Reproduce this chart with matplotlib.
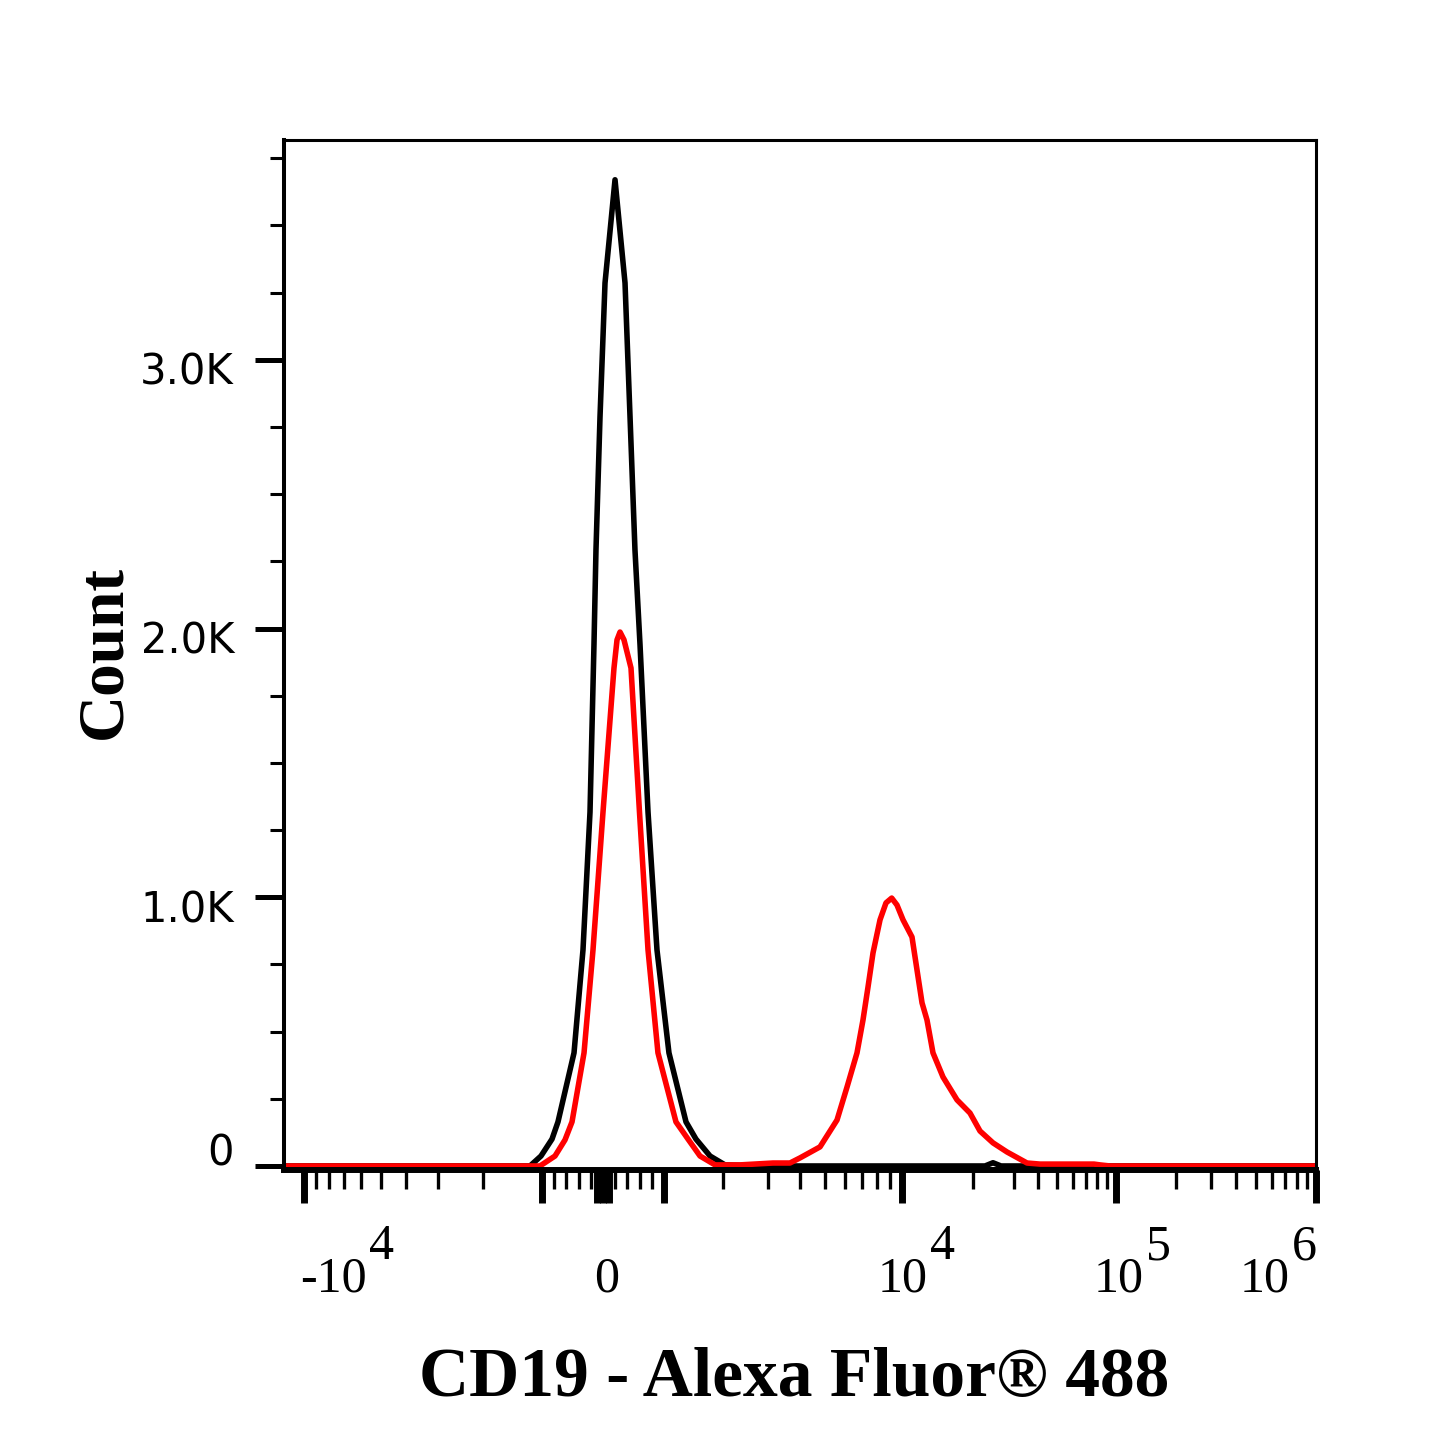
import numpy as np
import matplotlib
matplotlib.use("Agg")
import matplotlib.pyplot as plt
from matplotlib.ticker import FixedLocator, NullFormatter

# ── Histogram data (fluorescence vs count) ────────────────────────────────────
black_x = [-12170, -1151, -1012, -836, -738, -475, -328, -213, -148, -115,
           -49, 33, 197, 361, 443, 524, 607, 738, 885, 1060,
           1295, 1456, 1718, 2036, 2786, 22570, 24410, 26400, 1e6]
black_y = [0, 0, 37, 100, 164, 421, 804, 1317, 1939, 2293,
           2788, 3286, 3670, 3286, 2788, 2293, 1939, 1317, 804, 421,
           164, 100, 37, 4, 0, 0, 12, 0, 0]

red_x = [-12170, -1024, -787, -623, -508, -311, -164, 0, 180, 230,
         279, 344, 459, 598, 738, 901, 1151, 1326, 1527, 1821,
         2330, 3135, 3652, 3997, 4784, 5575, 6101, 6673, 7041, 7367,
         7706, 8207, 8660, 9116, 9560, 10100, 11030, 11588, 12170, 12780,
         13550, 14950, 17150, 19480, 21490, 24410, 28010, 34980, 40770, 77140,
         82790, 93160, 1e6]
red_y = [0, 0, 37, 97, 164, 421, 804, 1317, 1853, 1958,
         1987, 1958, 1853, 1317, 804, 421, 164, 100, 37, 4,
         4, 11, 11, 30, 71, 171, 294, 421, 543, 666,
         793, 916, 979, 997, 971, 916, 852, 729, 607, 543,
         421, 331, 246, 197, 130, 86, 52, 11, 7, 7,
         4, 0, 0]

Y_MAJOR  = [0, 1000, 2000, 3000]
Y_LABELS = ["0", "1.0K", "2.0K", "3.0K"]
X_LABEL_VALUES = [-1e4, 0, 1e4, 1e5, 1e6]
X_LABEL_BASE   = ["-10", "0", "10", "10", "10"]
X_LABEL_EXP    = ["4", "", "4", "5", "6"]

X_LABEL = "CD19 - Alexa Fluor® 488"
Y_LABEL = "Count"

# ── Biexponential-like display scale ──────────────────────────────────────────
LIN_LIMIT = 1000.0
LIN_SLOPE = 0.061
LOG_KNOTS = np.array([3.0, 3.301, 4.0, 4.477, 5.0, 6.0, 7.0])
POS_KNOTS = np.array([61.0, 120.0, 299.0, 411.0, 513.0, 713.0, 913.0])


def fwd(v):
    v = np.asarray(v, dtype=float)
    a = np.abs(v)
    lg = np.log10(np.maximum(a, 1e-9))
    return np.where(a <= LIN_LIMIT, v * LIN_SLOPE,
                    np.sign(v) * np.interp(lg, LOG_KNOTS, POS_KNOTS))


def inv(d):
    d = np.asarray(d, dtype=float)
    a = np.abs(d)
    return np.where(a <= LIN_LIMIT * LIN_SLOPE, d / LIN_SLOPE,
                    np.sign(d) * 10 ** np.interp(a, POS_KNOTS, LOG_KNOTS))


# ── Figure ────────────────────────────────────────────────────────────────────
W = H = 1445
fig = plt.figure(figsize=(W / 100, H / 100), dpi=100)
ax = fig.add_axes([284 / W, 1 - 1170 / H, 1032 / W, 1030 / H])

ax.plot(black_x, black_y, color="black", lw=4, solid_joinstyle="round")
ax.plot(red_x, red_y, color="#ff0000", lw=4, solid_joinstyle="round")

ax.set_xscale("function", functions=(fwd, inv))
ax.set_xlim(float(inv(-319)), 1e6)
ax.set_ylim(-15, 3818)

x_major = [-1e4, -1e3, -100, 0, 100, 1e3, 1e4, 1e5, 1e6]
x_minor = [-k * 1e3 for k in range(2, 10)]
x_minor += [s * v for v in (200, 400, 600, 800) for s in (-1, 1)]
x_minor += [k * 10 ** e for e in (3, 4, 5) for k in range(2, 10)]
ax.xaxis.set_major_locator(FixedLocator(x_major))
ax.xaxis.set_minor_locator(FixedLocator(x_minor))
ax.xaxis.set_major_formatter(NullFormatter())
ax.xaxis.set_minor_formatter(NullFormatter())

ax.yaxis.set_major_locator(FixedLocator(Y_MAJOR))
ax.yaxis.set_minor_locator(FixedLocator([v for v in np.arange(250, 4000, 250) if v % 1000]))
ax.yaxis.set_major_formatter(NullFormatter())

ax.tick_params(axis="x", which="major", direction="out", length=24, width=5)
ax.tick_params(axis="x", which="minor", direction="out", length=14, width=2.4)
ax.tick_params(axis="y", which="major", direction="out", length=21, width=3.6)
ax.tick_params(axis="y", which="minor", direction="out", length=10, width=2.2)

ax.spines["left"].set_linewidth(2.9)
ax.spines["top"].set_linewidth(2.2)
ax.spines["right"].set_linewidth(2.2)
ax.spines["bottom"].set_linewidth(4.3)

# y tick labels
for val, lbl in zip(Y_MAJOR, Y_LABELS):
    dy = 0 if val == 0 else -25
    ax.annotate(lbl, xy=(0, val), xycoords=ax.get_yaxis_transform(),
                xytext=(-50, dy), textcoords="offset pixels",
                ha="right", va="baseline", fontsize=30, family="DejaVu Sans")

# x tick labels (base + same-size raised exponent)
x_shift = [63, 4, 26, 28, -26]
for val, base, exp, dx in zip(X_LABEL_VALUES, X_LABEL_BASE, X_LABEL_EXP, x_shift):
    if not exp:
        ax.annotate(base, xy=(val, 0), xycoords=ax.get_xaxis_transform(),
                    xytext=(dx, -122), textcoords="offset pixels",
                    ha="center", va="baseline", fontsize=36, family="Liberation Serif")
        continue
    ax.annotate(base, xy=(val, 0), xycoords=ax.get_xaxis_transform(),
                xytext=(dx, -122), textcoords="offset pixels",
                ha="right", va="baseline", fontsize=36, family="Liberation Serif")
    ax.annotate(exp, xy=(val, 0), xycoords=ax.get_xaxis_transform(),
                xytext=(dx + 2, -89), textcoords="offset pixels",
                ha="left", va="baseline", fontsize=36, family="Liberation Serif")

fig.text(794 / W, 1 - 1396 / H, X_LABEL, ha="center", va="baseline",
         fontsize=50, fontweight="bold", family="Liberation Serif")
fig.text(104 / W, 1 - 652 / H, Y_LABEL, ha="center", va="center", rotation=90,
         fontsize=47, fontweight="bold", family="Liberation Serif")

fig.savefig("out.png", dpi=100)
